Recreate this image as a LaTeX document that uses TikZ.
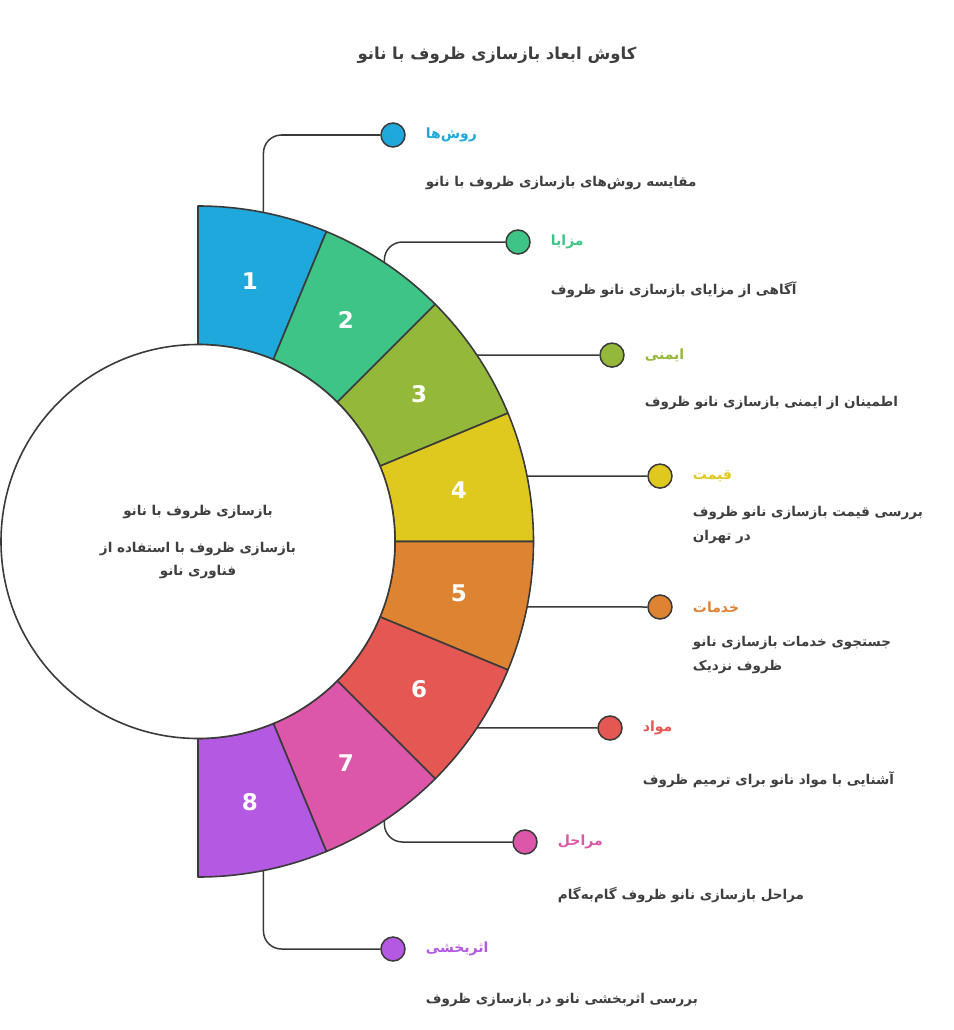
\documentclass[tikz,border=0pt]{standalone}
\usepackage{fontspec}
\setmainfont{DejaVu Sans}
\newfontfamily\farsi[Script=Arabic]{DejaVu Sans}
\TeXXeTstate=1
\usetikzlibrary{calc}
\definecolor{edge}{HTML}{3A3A3A}
\definecolor{ink}{HTML}{3F3F3F}
\definecolor{c1}{HTML}{1FA8DC}
\definecolor{c2}{HTML}{3DC486}
\definecolor{c3}{HTML}{93B83A}
\definecolor{c4}{HTML}{E0C91E}
\definecolor{c5}{HTML}{DE8331}
\definecolor{c6}{HTML}{E55753}
\definecolor{c7}{HTML}{DC57A9}
\definecolor{c8}{HTML}{B459E2}
\newcommand{\fa}[1]{{\farsi\beginR #1\endR}}

\begin{document}
\begin{tikzpicture}[x=1pt, y=1pt,
    segstyle/.style={draw=edge, line width=1.6pt, line join=round},
    numstyle/.style={text=white, font=\bfseries\fontsize{23}{23}\selectfont},
    connstyle/.style={draw=edge, line width=1.5pt, rounded corners=18pt},
    dotstyle/.style={circle, draw=edge, line width=1.5pt, minimum size=24pt, inner sep=0pt},
    labstyle/.style={anchor=west, inner sep=0pt, font=\farsi\bfseries\fontsize{14}{16}\selectfont},
    descstyle/.style={anchor=west, align=left, inner sep=0pt, text=ink, font=\farsi\bfseries\fontsize{13.5}{24}\selectfont}]
  \useasboundingbox (0,0) rectangle (953,-1030);
  \coordinate (C) at (198,-541.5);

  % ring of eight segments
  \foreach \i/\c in {1/c1, 2/c2, 3/c3, 4/c4, 5/c5, 6/c6, 7/c7, 8/c8} {
    \pgfmathsetmacro\a{112.5-22.5*\i}
    \pgfmathsetmacro\b{\a-22.5}
    \pgfmathsetmacro\m{\a-11.25}
    \draw[segstyle, fill=\c] ($(C)+(\a:197)$) -- ($(C)+(\a:335.5)$)
      arc[start angle=\a, end angle=\b, radius=335.5] -- ($(C)+(\b:197)$)
      arc[start angle=\b, end angle=\a, radius=197] -- cycle;
    \node[numstyle] (n\i) at ($(C)+(\m:266)$) {\i};
    \coordinate (s\i) at ($(C)+(\m:335.5)$);
  }

  % hub
  \node[circle, draw=edge, fill=white, line width=1.6pt, minimum size=394pt, inner sep=0pt] (hub) at (C) {};
  \node[text=ink, font=\farsi\bfseries\fontsize{13.5}{15}\selectfont] (hubtitle) at (198,-512) {\fa{بازسازی ظروف با نانو}};
  \node[text=ink, align=center, font=\farsi\bfseries\fontsize{13.5}{23}\selectfont] (hubtext) at (198,-561)
    {\fa{بازسازی ظروف با استفاده از}\\\fa{فناوری نانو}};

  % title
  \node[text=ink, font=\farsi\bfseries\fontsize{16.5}{16.5}\selectfont] (title) at (497,-55) {\fa{کاوش ابعاد بازسازی ظروف با نانو}};

  % dots
  \node[dotstyle, fill=c1] (d1) at (393,-135) {};
  \node[dotstyle, fill=c2] (d2) at (518,-242) {};
  \node[dotstyle, fill=c3] (d3) at (612,-355.1) {};
  \node[dotstyle, fill=c4] (d4) at (660,-476.1) {};
  \node[dotstyle, fill=c5] (d5) at (660,-607) {};
  \node[dotstyle, fill=c6] (d6) at (610,-728) {};
  \node[dotstyle, fill=c7] (d7) at (525,-842) {};
  \node[dotstyle, fill=c8] (d8) at (393,-949) {};

  % connectors
  \draw[connstyle] (s1) |- (d1);
  \draw[connstyle] (s2) |- (d2);
  \draw[connstyle] (s3) -- (d3);
  \draw[connstyle] (s4) -- (d4);
  \draw[connstyle] (s5) -- (d5);
  \draw[connstyle] (s6) -- (d6);
  \draw[connstyle] (s7) |- (d7);
  \draw[connstyle] (s8) |- (d8);

  % labels
  \node[labstyle, text=c1] (t1) at ([xshift=20pt]d1.east) {\fa{روش‌ها}};
  \node[labstyle, text=c2] (t2) at ([xshift=20pt]d2.east) {\fa{مزایا}};
  \node[labstyle, text=c3] (t3) at ([xshift=20pt]d3.east) {\fa{ایمنی}};
  \node[labstyle, text=c4] (t4) at ([xshift=20pt]d4.east) {\fa{قیمت}};
  \node[labstyle, text=c5] (t5) at ([xshift=20pt]d5.east) {\fa{خدمات}};
  \node[labstyle, text=c6] (t6) at ([xshift=20pt]d6.east) {\fa{مواد}};
  \node[labstyle, text=c7] (t7) at ([xshift=20pt]d7.east) {\fa{مراحل}};
  \node[labstyle, text=c8] (t8) at ([xshift=20pt]d8.east) {\fa{اثربخشی}};

  % descriptions
  \node[descstyle] (p1) at ($(t1.west)+(0,-48)$) {\fa{مقایسه روش‌های بازسازی ظروف با نانو}};
  \node[descstyle] (p2) at ($(t2.west)+(0,-48)$) {\fa{آگاهی از مزایای بازسازی نانو ظروف}};
  \node[descstyle] (p3) at ($(t3.west)+(0,-48)$) {\fa{اطمینان از ایمنی بازسازی نانو ظروف}};
  \node[descstyle] (p4) at ($(t4.west)+(0,-49)$) {\fa{بررسی قیمت بازسازی نانو ظروف}\\\fa{در تهران}};
  \node[descstyle] (p5) at ($(t5.west)+(0,-48)$) {\fa{جستجوی خدمات بازسازی نانو}\\\fa{ظروف نزدیک}};
  \node[descstyle] (p6) at ($(t6.west)+(0,-52)$) {\fa{آشنایی با مواد نانو برای ترمیم ظروف}};
  \node[descstyle] (p7) at ($(t7.west)+(0,-53)$) {\fa{مراحل بازسازی نانو ظروف گام‌به‌گام}};
  \node[descstyle] (p8) at ($(t8.west)+(0,-51)$) {\fa{بررسی اثربخشی نانو در بازسازی ظروف}};
\end{tikzpicture}
\end{document}
